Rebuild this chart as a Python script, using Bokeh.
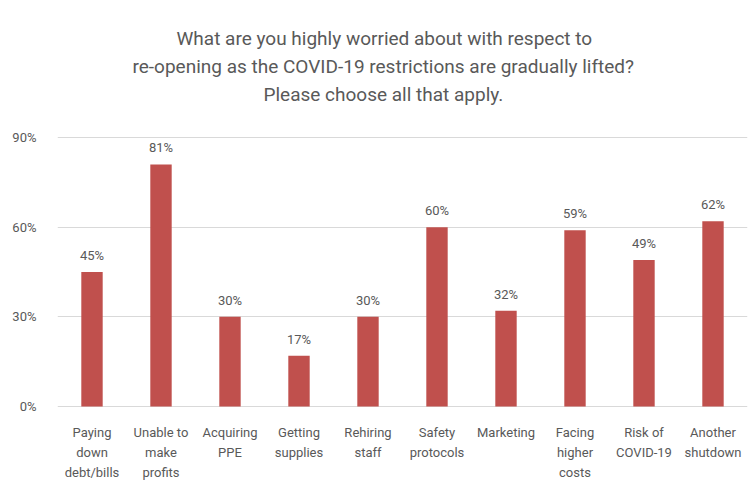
from bokeh.plotting import figure
from bokeh.models import (ColumnDataSource, FactorRange, Range1d, NumeralTickFormatter,
                          FixedTicker, Title)
from bokeh.embed import file_html
from bokeh.resources import INLINE

categories = ["Paying\ndown\ndebt/bills", "Unable to\nmake\nprofits", "Acquiring\nPPE",
              "Getting\nsupplies", "Rehiring\nstaff", "Safety\nprotocols", "Marketing",
              "Facing\nhigher\ncosts", "Risk of\nCOVID-19", "Another\nshutdown"]
values = [0.45, 0.81, 0.30, 0.17, 0.30, 0.60, 0.32, 0.59, 0.49, 0.62]
labels = ["45%", "81%", "30%", "17%", "30%", "60%", "32%", "59%", "49%", "62%"]
y_ticks = [0, 0.3, 0.6, 0.9]
title_lines = ["What are you highly worried about with respect to",
               "re-opening as the COVID-19 restrictions are gradually lifted?",
               "Please choose all that apply."]

FONT = "Roboto"
GREY = "#595959"

parts = [c.split("\n") for c in categories]
line_cols = {f"l{i}": [pp[i] if i < len(pp) else "" for pp in parts] for i in range(3)}
src = ColumnDataSource(dict(cat=categories, val=values, lab=labels, zero=[0] * len(values), **line_cols))

p = figure(width=753, height=490, output_backend="svg", toolbar_location=None,
           x_range=FactorRange(*categories), y_range=Range1d(-0.281, 1.007),
           title=None, x_axis_location=None,
           min_border_left=57, min_border_right=6, min_border_bottom=0, min_border_top=105)

p.vbar(x="cat", top="val", width=0.31, source=src, fill_color="#C0504D", line_color=None)
p.text(x="cat", y="val", text="lab", source=src, text_align="center", text_baseline="bottom",
       y_offset=-9, text_font_size="13px", text_color=GREY, text_font={"value": FONT})

# category labels, one glyph per line, hung below the 0% baseline
for i, off in enumerate([26, 46, 66]):
    p.text(x="cat", y="zero", text=f"l{i}", source=src, y_offset=off,
           text_align="center", text_baseline="middle", text_font={"value": FONT},
           text_font_size="13px", text_color=GREY)

# (standoff, left offset) per title line; lines centred at x ~ 382
title_pos = [(0, 119), (6, 75), (0, 206)]
for line, (so, off) in reversed(list(zip(title_lines, title_pos))):
    p.add_layout(Title(text=line, align="left", text_font=FONT, text_font_size="19px",
                       text_font_style="normal", text_color=GREY, standoff=so, offset=off),
                 "above")

p.outline_line_color = None
p.xgrid.grid_line_color = None
p.ygrid.grid_line_color = "#d9d9d9"
p.ygrid.ticker = FixedTicker(ticks=y_ticks)

p.yaxis.ticker = FixedTicker(ticks=y_ticks)
p.yaxis.formatter = NumeralTickFormatter(format="0%")
p.yaxis.axis_line_color = None
p.yaxis.major_tick_line_color = None
p.yaxis.minor_tick_line_color = None
p.yaxis.major_label_standoff = 15
p.yaxis.major_label_text_font = FONT
p.yaxis.major_label_text_font_size = "13px"
p.yaxis.major_label_text_color = GREY

open("out.html", "w").write(file_html(p, INLINE))
